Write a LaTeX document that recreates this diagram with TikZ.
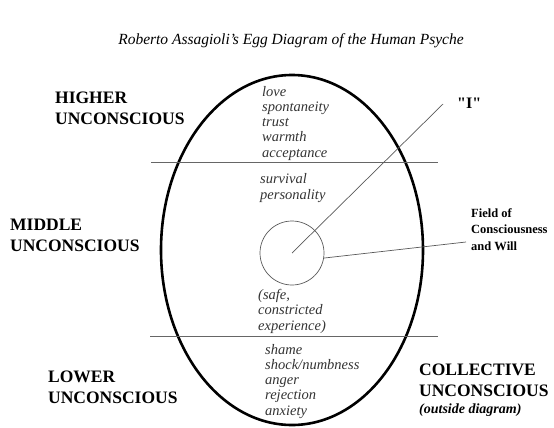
\documentclass[tikz,border=0pt]{standalone}
\usepackage{fontspec}
\setmainfont{Liberation Serif}
\usepackage{tikz}
\usetikzlibrary{shapes.geometric}

\begin{document}
\begin{tikzpicture}[x=1pt, y=-1pt]
    \tikzstyle{region} = [anchor=base west, inner sep=0pt, align=left,
	font=\bfseries\fontsize{17.5}{20.5}\selectfont]
    \tikzstyle{feeling} = [anchor=base west, inner sep=0pt, align=left,
	text=black!80, font=\itshape\fontsize{14.5}{15.2}\selectfont]
    \tikzstyle{divider} = [draw, black!60, line width=0.9pt]
    \tikzstyle{pointer} = [draw, black!65, line width=0.7pt]
	\useasboundingbox (0,0) rectangle (554,428);
	\path
		node[anchor=base, font=\itshape\fontsize{15.5}{18}\selectfont] (title) at (291,45)
			{Roberto Assagioli's Egg Diagram of the Human Psyche}

		node[ellipse, draw, line width=2.6pt, minimum width=262pt,
			minimum height=350pt, inner sep=0pt] (egg) at (292,250) {}
		node[circle, draw, black!65, line width=0.7pt, minimum size=64pt,
			inner sep=0pt] (field) at (292,253) {}

		coordinate (hl) at (151,162) coordinate (hr) at (438,162)
		coordinate (ll) at (150,336) coordinate (lr) at (438,336)
		coordinate (itip) at (443,104)
		coordinate (ftip) at (466,242)

		% base of a multi-line node is its last line
		node[region] (higher) at (55,124) {HIGHER\\UNCONSCIOUS}
		node[region] (middle) at (10,251) {MIDDLE\\UNCONSCIOUS}
		node[region] (lower) at (48,403) {LOWER\\UNCONSCIOUS}
		node[region] (collective) at (419,396) {COLLECTIVE\\UNCONSCIOUS}
		node[anchor=base west, inner sep=0pt,
			font=\bfseries\itshape\fontsize{14}{16}\selectfont] (outside) at (419,413)
			{(outside diagram)}

		node[feeling] (highfeel) at (262,157) {love\\spontaneity\\trust\\warmth\\acceptance}
		node[feeling] (midfeel) at (260,199) {survival\\personality}
		node[feeling] (safe) at (258,330) {(safe,\\constricted\\experience)}
		node[feeling] (lowfeel) at (265,415) {shame\\shock/numbness\\anger\\rejection\\anxiety}

		node[anchor=base west, inner sep=0pt,
			font=\bfseries\fontsize{16}{18}\selectfont] (self) at (457,108)
			{\textquotedbl I\textquotedbl}
		node[anchor=base west, inner sep=0pt, align=left,
			font=\bfseries\fontsize{12.5}{16.5}\selectfont] (fieldtext) at (471,250)
			{Field of\\Consciousness\\and Will}

		(hl) edge[divider] (hr)
		(ll) edge[divider] (lr)
		(field.center) edge[pointer] (itip)
		(field.-9) edge[pointer] (ftip)
	;
\end{tikzpicture}
\end{document}
